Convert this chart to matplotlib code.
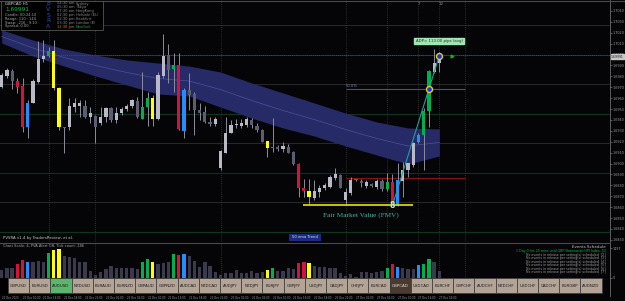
import matplotlib
matplotlib.use('Agg')
import matplotlib.pyplot as plt
from matplotlib.patches import Rectangle

# ---------------- data ----------------
symbol = 'GBPCAD H1'
last_price = 1.69991

opens = [1.69704, 1.69803, 1.69851, 1.69760, 1.69710, 1.69338, 1.69558, 1.69750, 1.69956, 1.69986,
         1.70032, 1.69695, 1.69331, 1.69331, 1.69515, 1.69530, 1.69527, 1.69423, 1.69435, 1.69368,
         1.69429, 1.69506, 1.69399, 1.69466, 1.69496, 1.69527, 1.69576, 1.69408, 1.69521, 1.69597,
         1.69405, 1.69803, 1.69995, 1.69866, 1.69903, 1.69298, 1.69674, 1.69637, 1.69490, 1.69475,
         1.69383, 1.69362, 1.68955, 1.69093, 1.69282, 1.69353, 1.69344, 1.69350, 1.69399, 1.69344,
         1.69307, 1.69206, 1.69142, 1.69154, 1.69129, 1.69154, 1.69108, 1.68995, 1.68772, 1.68750,
         1.68680, 1.68741, 1.68772, 1.68787, 1.68863, 1.68894, 1.68665, 1.68726, 1.68848, 1.68839,
         1.68796, 1.68808, 1.68787, 1.68836, 1.68762, 1.68830, 1.68613, 1.68842, 1.68940, 1.68986,
         1.69194, 1.69261, 1.69484, 1.69842, 1.69918]
highs = [1.69827, 1.69873, 1.69864, 1.69781, 1.69781, 1.69582, 1.69772, 1.70126, 1.70133, 1.70072,
         1.70133, 1.69704, 1.69338, 1.69597, 1.69597, 1.69582, 1.69582, 1.69515, 1.69444, 1.69515,
         1.69515, 1.69515, 1.69515, 1.69515, 1.69545, 1.69588, 1.69607, 1.69842, 1.69659, 1.69628,
         1.69842, 1.70189, 1.70096, 1.70010, 1.70010, 1.69689, 1.69827, 1.69659, 1.69558, 1.69527,
         1.69429, 1.69429, 1.69123, 1.69423, 1.69399, 1.69411, 1.69405, 1.69423, 1.69414, 1.69368,
         1.69313, 1.69209, 1.69414, 1.69169, 1.69200, 1.69178, 1.69114, 1.69001, 1.68854, 1.68854,
         1.68848, 1.68802, 1.68818, 1.68894, 1.68955, 1.68903, 1.68772, 1.68879, 1.68860, 1.68854,
         1.68848, 1.68818, 1.68854, 1.68854, 1.68909, 1.68903, 1.69007, 1.69017, 1.69007, 1.69200,
         1.69276, 1.69506, 1.69857, 1.70048, 1.70026]
lows = [1.69689, 1.69781, 1.69680, 1.69643, 1.69293, 1.69230, 1.69551, 1.69735, 1.69934, 1.69974,
        1.69674, 1.69307, 1.69093, 1.69307, 1.69475, 1.69429, 1.69414, 1.69368, 1.69185, 1.69353,
        1.69383, 1.69383, 1.69368, 1.69444, 1.69484, 1.69506, 1.69414, 1.69405, 1.69344, 1.69344,
        1.69399, 1.69781, 1.69735, 1.69659, 1.69307, 1.69230, 1.69490, 1.69261, 1.69399, 1.69368,
        1.69344, 1.69344, 1.68940, 1.69093, 1.69276, 1.69322, 1.69322, 1.69338, 1.69322, 1.69293,
        1.69194, 1.69062, 1.69108, 1.69117, 1.69108, 1.69093, 1.68986, 1.68695, 1.68695, 1.68619,
        1.68665, 1.68695, 1.68756, 1.68778, 1.68848, 1.68772, 1.68619, 1.68710, 1.68842, 1.68787,
        1.68772, 1.68787, 1.68762, 1.68750, 1.68750, 1.68634, 1.68613, 1.68695, 1.68879, 1.68970,
        1.69185, 1.68940, 1.69338, 1.69827, 1.69842]
closes = [1.69811, 1.69858, 1.69760, 1.69704, 1.69338, 1.69558, 1.69760, 1.69956, 1.69986, 1.70032,
          1.69695, 1.69338, 1.69322, 1.69527, 1.69551, 1.69551, 1.69429, 1.69466, 1.69331, 1.69429,
          1.69506, 1.69399, 1.69466, 1.69496, 1.69527, 1.69582, 1.69429, 1.69515, 1.69597, 1.69405,
          1.69811, 1.69986, 1.69858, 1.69903, 1.69316, 1.69674, 1.69628, 1.69490, 1.69466, 1.69383,
          1.69362, 1.69408, 1.69114, 1.69282, 1.69353, 1.69362, 1.69368, 1.69405, 1.69353, 1.69307,
          1.69200, 1.69145, 1.69154, 1.69129, 1.69160, 1.69099, 1.68992, 1.68772, 1.68750, 1.68695,
          1.68750, 1.68778, 1.68802, 1.68873, 1.68903, 1.68778, 1.68741, 1.68848, 1.68854, 1.68818,
          1.68833, 1.68796, 1.68839, 1.68762, 1.68830, 1.68649, 1.68848, 1.68940, 1.69001, 1.69191,
          1.69261, 1.69484, 1.69848, 1.69925, 1.69991]
# PVSRA candle class: L light/bull, D dark/bear, R red, B blue, G green, Y yellow
candle_kind = list("LLDRRBLLLG" "YYDLLLDLDL" "LDLLLLDGGY" "LLDGRBDDDD" "DLLLLLLLDD"
                   "DYGDLDDRRY" "LLLLLDLLDD" "LDLDGRBLLL" "BGGLL")
volumes = [392, 478, 509, 682, 901, 784, 784, 850, 784, 1242,
           1410, 1461, 1120, 1054, 987, 784, 784, 341, 137, 275,
           443, 580, 478, 478, 509, 478, 443, 784, 952, 784,
           682, 733, 784, 1191, 1155, 1191, 1120, 850, 560, 784,
           611, 305, 137, 255, 255, 377, 255, 224, 341, 255,
           305, 392, 478, 341, 341, 478, 443, 733, 814, 733,
           611, 560, 560, 509, 478, 224, 102, 173, 51, 275,
           275, 224, 305, 341, 509, 682, 560, 478, 443, 443,
           646, 697, 937, 784, 356]

# 50 ema ribbon (upper/lower edge) sampled at these candles
band_idx = [0, 6, 12, 18, 24, 30, 36, 42, 48, 54, 60, 66, 72, 78, 84]
band_upper = [1.70225, 1.70133, 1.70050, 1.69995, 1.69950, 1.69922, 1.69894, 1.69839,
              1.69739, 1.69647, 1.69555, 1.69463, 1.69381, 1.69326, 1.69317]
band_lower = [1.70106, 1.69986, 1.69894, 1.69803, 1.69720, 1.69638, 1.69619, 1.69518,
              1.69417, 1.69326, 1.69252, 1.69161, 1.69078, 1.68995, 1.69069]

grid_levels = [1.70271, 1.69995, 1.69729, 1.69454, 1.69188, 1.68913, 1.68647, 1.68372]
grid_colors = ['#262626', '#15283a', '#262626', '#0f3520', '#262626', '#15283a', '#262626', '#0f3520']
separators = [18, 42, 66, 74, 84, 89]
extra_separators = [9, 80]

fmv_price = 1.68615
fmv_start, fmv_end = 57.8, 79
fib_level = 1.69684
red_level = 1.68867
swing_low = (75, 1.68615)
swing_high = (84, 1.69989)
fib_mid = (82, 1.69684)

time_labels = ['21 Dec 2023', '21 Dec 10:00', '21 Dec 14:00', '21 Dec 18:00', '21 Dec 22:00',
               '22 Dec 02:00', '22 Dec 06:00', '22 Dec 10:00', '22 Dec 14:00', '22 Dec 18:00',
               '22 Dec 22:00', '26 Dec 02:00', '26 Dec 06:00', '26 Dec 10:00', '26 Dec 14:00',
               '26 Dec 18:00', '26 Dec 22:00', '27 Dec 02:00', '27 Dec 06:00', '27 Dec 10:00',
               '27 Dec 14:00', '27 Dec 18:00']
pairs = ['GBPUSD', 'EURUSD', 'AUDUSD', 'NZDUSD', 'EURAUD', 'EURNZD', 'GBPAUD', 'GBPNZD',
         'AUDCAD', 'NZDCAD', 'AUDJPY', 'NZDJPY', 'EURJPY', 'GBPJPY', 'USDJPY', 'CADJPY',
         'CHFJPY', 'EURCAD', 'GBPCAD', 'USDCAD', 'EURCHF', 'GBPCHF', 'AUDCHF', 'NZDCHF',
         'USDCHF', 'CADCHF', 'EURGBP', 'AUDNZD']
price_ticks = [1.7040, 1.7030, 1.7020, 1.7010, 1.7000, 1.6990, 1.6980, 1.6970, 1.6960, 1.6950,
               1.6940, 1.6930, 1.6920, 1.6910, 1.6900, 1.6890, 1.6880, 1.6870, 1.6860, 1.6850,
               1.6840, 1.6830]
sessions = ['Sydney', 'Tokyo', 'HongKong', 'Helsinki (EL)', 'Frankfurt', 'London (E)', 'NewYork']
session_times = ['04:30 am', '05:30 am', '07:30 am', '02:30 pm', '02:30 pm', '03:30 pm', '12:30 pm']
events = ['1 Day 0 hrs 25 mins until GBP Nationwide HPI Index  [1]'] + \
         ['No events in release per setting(s) scheduled  [%d]' % k for k in range(2, 8)]

# ---------------- style ----------------
BG = '#050507'
kind_color = {'L': '#b9b9c7', 'D': '#5d5d72', 'R': '#d2143c', 'B': '#1f8fff',
              'G': '#00b04c', 'Y': '#ffff00'}
vol_color = {'L': '#3a3a4c', 'D': '#3a3a4c', 'R': '#d2143c', 'B': '#1f8fff',
             'G': '#00b04c', 'Y': '#ffff00'}

W, H = 625, 301
fig = plt.figure(figsize=(W / 100, H / 100), dpi=100, facecolor=BG)

def frac(x0, y0, x1, y1):
    return [x0 / W, 1 - y1 / H, (x1 - x0) / W, (y1 - y0) / H]

x_lo, x_hi = -0.326, 116.76
ax = fig.add_axes(frac(0, 0, 610, 242))
ax.set_facecolor(BG)
ax.set_xlim(x_lo, x_hi)
ax.set_ylim(1.68280, 1.70500)

n = len(closes)
idx = list(range(n))

for lv, c in zip(grid_levels, grid_colors):
    ax.axhline(lv, color=c, lw=0.8, zorder=0)
for s in separators + extra_separators:
    ax.axvline(s, color='#3a3a3a', lw=0.6, ls=(0, (1, 1.5)), zorder=0.5)

# ema ribbon
ax.fill_between(band_idx, band_lower, band_upper, color='#262a66', lw=0, zorder=1)
mid = [(u + l) / 2 for u, l in zip(band_upper, band_lower)]
ax.plot(band_idx, mid, color='#4a5298', lw=0.5, zorder=1.2)

# current price dotted line
ax.axhline(last_price, color='#55555f', lw=0.6, ls=(0, (1, 1.5)), zorder=1.5)

# candles
ax.vlines(idx, lows, highs, color='#8c8c9c', lw=0.7, zorder=2)
bottoms = [min(o, c) for o, c in zip(opens, closes)]
heights = [max(abs(c - o), 0.00004) for o, c in zip(opens, closes)]
ax.bar(idx, heights, bottom=bottoms, width=0.62,
       color=[kind_color[k] for k in candle_kind], lw=0, zorder=3)

# FMV and fib lines
ax.hlines(fmv_price, fmv_start, fmv_end, color='#d6d600', lw=1.3, zorder=4)
ax.hlines(fib_level, 66, 89, color='#3b5a74', lw=0.8, zorder=1.6)
ax.hlines(red_level, 66, 89, color='#8a1010', lw=0.8, zorder=1.6)
ax.text(66, fib_level + 0.00008, '50.0%', color='#8090a0', fontsize=2.6, va='bottom', ha='left')
ax.text(69, fmv_price - 0.00090, 'Fair Market Value (FMV)', color='#3cb8a8', fontsize=5.2,
        family='Liberation Serif', ha='center', va='center', zorder=5)
ax.plot([swing_low[0], swing_high[0]], [swing_low[1], swing_high[1]], color='#1fa0a0', lw=0.8, zorder=4)
ax.plot([fib_mid[0], swing_high[0]], [fib_mid[1], swing_high[1]], ls='none', marker='o',
        ms=4.3, mfc='#1030ff', mec='#e8d000', mew=1.0, zorder=6)
ax.text(swing_low[0], swing_low[1], '8', color='#a8f0f0', fontsize=5.5, ha='center', va='center',
        zorder=6, fontweight='bold')
ax.plot([86.5], [swing_high[1]], marker='>', ms=2, color='#00c000', ls='none', zorder=6)
ax.text(84, 1.70124, 'ADP= 113.00 pips (avg)', fontsize=2.8, color='#203020', ha='center', va='center',
        bbox=dict(boxstyle='square,pad=0.35', fc='#9fe6b2', ec='#9fe6b2'), zorder=7)

# axis styling
ax.set_xticks([])
ax.yaxis.tick_right()
ax.set_yticks(price_ticks)
ax.set_yticklabels(['%.4f' % p for p in price_ticks])
ax.tick_params(axis='y', colors='#9a9a9a', labelsize=2.4, length=1.2, width=0.4, pad=0.6)
for sp in ['top', 'left', 'bottom']:
    ax.spines[sp].set_visible(False)
ax.spines['right'].set_color('#6a6a6a')
ax.spines['right'].set_linewidth(0.6)
ax.text(1.0015, last_price - 0.00012, '%.5f' % last_price, transform=ax.get_yaxis_transform(),
        fontsize=2.2, color='#101010', va='center', ha='left', clip_on=False,
        bbox=dict(boxstyle='square,pad=0.12', fc='#c8c8c8', ec='#c8c8c8'), zorder=8)

# ---------------- volume sub-panel ----------------
sub = fig.add_axes(frac(0, 243, 610, 277.7))
sub.set_facecolor(BG)
sub.set_xlim(x_lo, x_hi)
sub.set_ylim(0, 1766)
for s in separators:
    sub.axvline(s, color='#3a3a3a', lw=0.6, ls=(0, (1, 1.5)), zorder=0.5)
sub.bar(idx, volumes, width=0.63, color=[vol_color[k] for k in candle_kind], lw=0, zorder=2)
sub.set_xticks([])
sub.yaxis.tick_right()
sub.set_yticks([0, 1497])
sub.set_yticklabels(['0', '1497'])
sub.tick_params(axis='y', colors='#9a9a9a', labelsize=2.4, length=1.2, width=0.4, pad=0.6)
for sp in ['top', 'left', 'bottom']:
    sub.spines[sp].set_visible(False)
sub.spines['right'].set_color('#6a6a6a')
sub.spines['right'].set_linewidth(0.6)

# ---------------- overlay (pixel coordinates) ----------------
ov = fig.add_axes([0, 0, 1, 1])
ov.set_xlim(0, W)
ov.set_ylim(H, 0)
ov.axis('off')
ov.patch.set_alpha(0)

# panel separators
ov.plot([0, 610], [242.5, 242.5], color='#4a4a4a', lw=0.8)
ov.plot([0, 625], [0.5, 0.5], color='#4a4a4a', lw=0.8)
ov.plot([610, 610], [277.7, 296], color='#6a6a6a', lw=0.6)

# info box top-left
ov.add_patch(Rectangle((0.5, 0.5), 102, 29.5, fc='#000000', ec='#555555', lw=0.6, zorder=5))
ov.text(5, 4, symbol, color='#d8d8d8', fontsize=2.8, va='center', zorder=6)
ov.text(5, 9.5, '%.5f' % last_price, color='#00c040', fontsize=4.2, va='center', zorder=6)
for k, t in enumerate(['Candle: 00:24:10', 'Range: 110 · 144', 'Swap: -216 · 9.10', 'Spread: 0.00']):
    ov.text(5, 15.5 + k * 3.6, t, color='#a8a8a8', fontsize=2.6, va='center', zorder=6)
for k, ch in enumerate('PVSRA'):
    ov.text(48.5, 4.5 + k * 5.4, ch, color='#2d4fc8', fontsize=4.3, ha='center', va='center', zorder=6)
for k, (tm, nm) in enumerate(zip(session_times, sessions)):
    last = k == len(sessions) - 1
    ov.text(57, 3.5 + k * 3.95, tm, color='#e07818' if last else '#8a8a8a', fontsize=2.6,
            va='center', zorder=6)
    ov.text(76, 3.5 + k * 3.95, nm, color='#00b040' if last else '#8a8a8a', fontsize=2.6,
            va='center', zorder=6)

# top small labels
ov.text(419, 4, '7', color='#8a8a8a', fontsize=3, ha='center', va='center')
ov.text(441, 4, '12', color='#8a8a8a', fontsize=3, ha='center', va='center')

# bottom of main panel texts
ov.text(3, 237.5, 'PVSRA v1.4 by TradersReview, et al.', color='#c8c8c8', fontsize=2.8, va='center')
ov.add_patch(Rectangle((289, 233.5), 32, 7.5, fc='#1c2a82', ec='#1c2a82', lw=0))
ov.text(305, 237.3, '50 ema Trend', color='#e0e0f0', fontsize=2.7, ha='center', va='center')

# sub-panel texts
ov.text(3, 246, 'Chart Scale: 4, PVA Alert Off, Tick count: 286', color='#a8a8a8', fontsize=2.6,
        va='center')
ov.text(606, 247, 'Events Schedule', color='#c8c8c8', fontsize=2.9, ha='right', va='center')
for k, e in enumerate(events):
    ov.text(606, 251.2 + k * 3.5, e, color='#00c040' if k == 0 else '#9a9a9a', fontsize=2.3,
            ha='right', va='center')

# pair buttons
ov.add_patch(Rectangle((0, 278), 8, 15.5, fc='#000000', ec='#000000', lw=0))
bw = 21.2
for k, p in enumerate(pairs):
    x0 = 8 + k * bw
    if p == 'GBPCAD':
        fc, tc = '#4a3a30', '#e8e0d8'
    elif p == 'AUDUSD':
        fc, tc = '#5cb56c', '#1a1a1a'
    else:
        fc, tc = '#b4a496', '#1a1a1a'
    ov.add_patch(Rectangle((x0, 278.3), bw, 15, fc=fc, ec='#3a3a3a', lw=0.5, zorder=5))
    ov.text(x0 + bw / 2, 285.8, p, color=tc, fontsize=2.9, ha='center', va='center', zorder=6)

# time labels
for k, t in enumerate(time_labels):
    i = k * 4
    xpix = 1.7 + i * 5.21
    ov.text(xpix, 297.8, t, color='#9a9a9a', fontsize=1.9, ha='left', va='center')

fig.savefig('out.png', dpi=100, facecolor=BG)
